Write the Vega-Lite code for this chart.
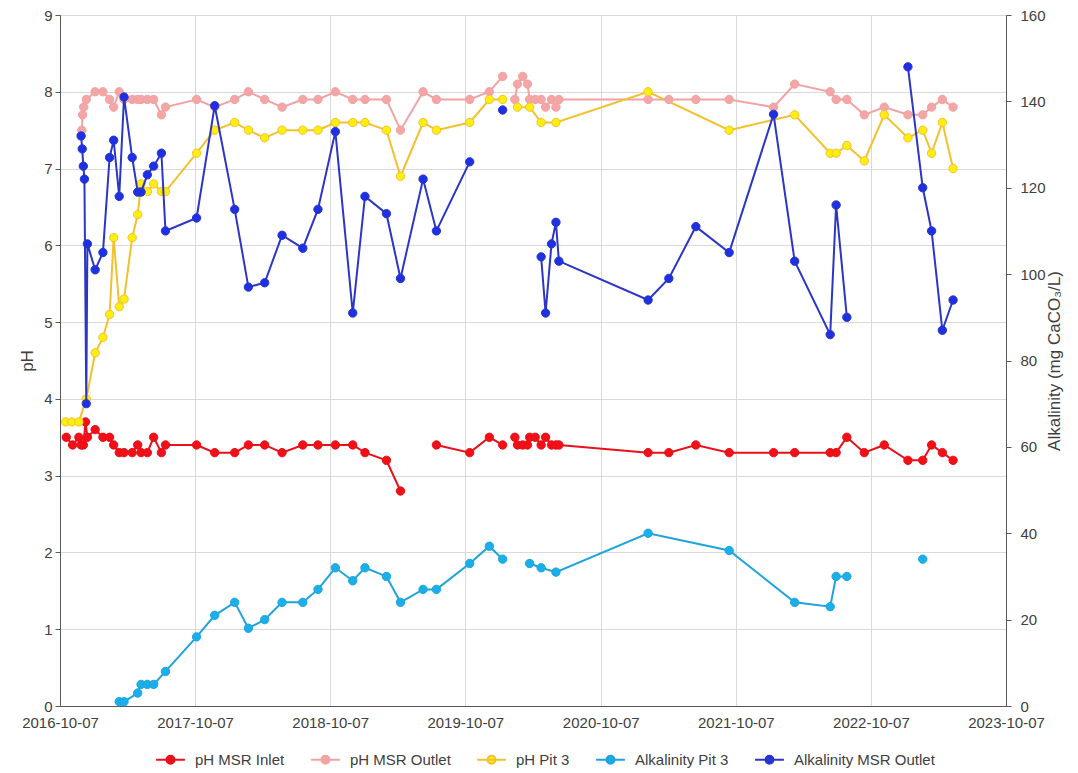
{
  "$schema": "https://vega.github.io/schema/vega-lite/v6.json",
  "width": 946,
  "height": 691,
  "autosize": {"type": "none"},
  "padding": {"left": 60, "top": 15, "right": 72, "bottom": 67},
  "background": "white",
  "config": {
    "font": "Liberation Sans",
    "view": {"stroke": "#595959", "strokeWidth": 1},
    "axis": {
      "labelFont": "Liberation Sans",
      "labelFontSize": 15,
      "labelColor": "#404040",
      "titleFont": "Liberation Sans",
      "titleFontSize": 17,
      "titleFontWeight": "normal",
      "titleColor": "#404040",
      "domainColor": "#595959",
      "tickColor": "#595959",
      "gridColor": "#D9D9D9",
      "gridWidth": 1
    },
    "legend": {
      "orient": "none",
      "legendX": 103,
      "legendY": 737,
      "direction": "horizontal",
      "padding": 0,
      "title": null,
      "symbolType": "M-3.6,0H3.6M1,0A1,1,0,1,1,-1,0A1,1,0,1,1,1,0Z",
      "symbolSize": 64,
      "symbolStrokeWidth": 2,
      "labelFont": "Liberation Sans",
      "labelFontSize": 15,
      "labelColor": "#404040",
      "labelOffset": 17,
      "columnPadding": 22
    }
  },
  "data": {
    "values": [
      {"date": "2016-10-24", "series": "pH MSR Inlet", "value": 3.5},
      {"date": "2016-11-10", "series": "pH MSR Inlet", "value": 3.4},
      {"date": "2016-11-27", "series": "pH MSR Inlet", "value": 3.5},
      {"date": "2016-12-03", "series": "pH MSR Inlet", "value": 3.4},
      {"date": "2016-12-09", "series": "pH MSR Inlet", "value": 3.4},
      {"date": "2016-12-15", "series": "pH MSR Inlet", "value": 3.7},
      {"date": "2016-12-20", "series": "pH MSR Inlet", "value": 3.5},
      {"date": "2017-01-10", "series": "pH MSR Inlet", "value": 3.6},
      {"date": "2017-01-31", "series": "pH MSR Inlet", "value": 3.5},
      {"date": "2017-02-18", "series": "pH MSR Inlet", "value": 3.5},
      {"date": "2017-03-01", "series": "pH MSR Inlet", "value": 3.4},
      {"date": "2017-03-16", "series": "pH MSR Inlet", "value": 3.3},
      {"date": "2017-03-29", "series": "pH MSR Inlet", "value": 3.3},
      {"date": "2017-04-20", "series": "pH MSR Inlet", "value": 3.3},
      {"date": "2017-05-05", "series": "pH MSR Inlet", "value": 3.4},
      {"date": "2017-05-14", "series": "pH MSR Inlet", "value": 3.3},
      {"date": "2017-05-31", "series": "pH MSR Inlet", "value": 3.3},
      {"date": "2017-06-17", "series": "pH MSR Inlet", "value": 3.5},
      {"date": "2017-07-08", "series": "pH MSR Inlet", "value": 3.3},
      {"date": "2017-07-19", "series": "pH MSR Inlet", "value": 3.4},
      {"date": "2017-10-11", "series": "pH MSR Inlet", "value": 3.4},
      {"date": "2017-11-29", "series": "pH MSR Inlet", "value": 3.3},
      {"date": "2018-01-22", "series": "pH MSR Inlet", "value": 3.3},
      {"date": "2018-02-28", "series": "pH MSR Inlet", "value": 3.4},
      {"date": "2018-04-13", "series": "pH MSR Inlet", "value": 3.4},
      {"date": "2018-05-30", "series": "pH MSR Inlet", "value": 3.3},
      {"date": "2018-07-25", "series": "pH MSR Inlet", "value": 3.4},
      {"date": "2018-09-04", "series": "pH MSR Inlet", "value": 3.4},
      {"date": "2018-10-21", "series": "pH MSR Inlet", "value": 3.4},
      {"date": "2018-12-07", "series": "pH MSR Inlet", "value": 3.4},
      {"date": "2019-01-09", "series": "pH MSR Inlet", "value": 3.3},
      {"date": "2019-03-08", "series": "pH MSR Inlet", "value": 3.2},
      {"date": "2019-04-15", "series": "pH MSR Inlet", "value": 2.8},
      {"date": "2019-06-15", "series": "pH MSR Inlet", "value": null},
      {"date": "2019-07-21", "series": "pH MSR Inlet", "value": 3.4},
      {"date": "2019-10-19", "series": "pH MSR Inlet", "value": 3.3},
      {"date": "2019-12-11", "series": "pH MSR Inlet", "value": 3.5},
      {"date": "2020-01-16", "series": "pH MSR Inlet", "value": 3.4},
      {"date": "2020-02-01", "series": "pH MSR Inlet", "value": null},
      {"date": "2020-02-18", "series": "pH MSR Inlet", "value": 3.5},
      {"date": "2020-02-25", "series": "pH MSR Inlet", "value": 3.4},
      {"date": "2020-03-10", "series": "pH MSR Inlet", "value": 3.4},
      {"date": "2020-03-23", "series": "pH MSR Inlet", "value": 3.4},
      {"date": "2020-03-29", "series": "pH MSR Inlet", "value": 3.5},
      {"date": "2020-04-13", "series": "pH MSR Inlet", "value": 3.5},
      {"date": "2020-04-29", "series": "pH MSR Inlet", "value": 3.4},
      {"date": "2020-05-11", "series": "pH MSR Inlet", "value": 3.5},
      {"date": "2020-05-27", "series": "pH MSR Inlet", "value": 3.4},
      {"date": "2020-06-08", "series": "pH MSR Inlet", "value": 3.4},
      {"date": "2020-06-16", "series": "pH MSR Inlet", "value": 3.4},
      {"date": "2021-02-12", "series": "pH MSR Inlet", "value": 3.3},
      {"date": "2021-04-09", "series": "pH MSR Inlet", "value": 3.3},
      {"date": "2021-06-21", "series": "pH MSR Inlet", "value": 3.4},
      {"date": "2021-09-19", "series": "pH MSR Inlet", "value": 3.3},
      {"date": "2022-01-17", "series": "pH MSR Inlet", "value": 3.3},
      {"date": "2022-03-15", "series": "pH MSR Inlet", "value": 3.3},
      {"date": "2022-06-19", "series": "pH MSR Inlet", "value": 3.3},
      {"date": "2022-07-05", "series": "pH MSR Inlet", "value": 3.3},
      {"date": "2022-08-03", "series": "pH MSR Inlet", "value": 3.5},
      {"date": "2022-09-19", "series": "pH MSR Inlet", "value": 3.3},
      {"date": "2022-11-12", "series": "pH MSR Inlet", "value": 3.4},
      {"date": "2023-01-15", "series": "pH MSR Inlet", "value": 3.2},
      {"date": "2023-02-24", "series": "pH MSR Inlet", "value": 3.2},
      {"date": "2023-03-20", "series": "pH MSR Inlet", "value": 3.4},
      {"date": "2023-04-18", "series": "pH MSR Inlet", "value": 3.3},
      {"date": "2023-05-17", "series": "pH MSR Inlet", "value": 3.2},

      {"date": "2016-12-05", "series": "pH MSR Outlet", "value": 7.5},
      {"date": "2016-12-07", "series": "pH MSR Outlet", "value": 7.7},
      {"date": "2016-12-10", "series": "pH MSR Outlet", "value": 7.8},
      {"date": "2016-12-17", "series": "pH MSR Outlet", "value": 7.9},
      {"date": "2017-01-10", "series": "pH MSR Outlet", "value": 8.0},
      {"date": "2017-01-31", "series": "pH MSR Outlet", "value": 8.0},
      {"date": "2017-02-18", "series": "pH MSR Outlet", "value": 7.9},
      {"date": "2017-03-01", "series": "pH MSR Outlet", "value": 7.8},
      {"date": "2017-03-16", "series": "pH MSR Outlet", "value": 8.0},
      {"date": "2017-03-29", "series": "pH MSR Outlet", "value": 7.9},
      {"date": "2017-04-20", "series": "pH MSR Outlet", "value": 7.9},
      {"date": "2017-05-05", "series": "pH MSR Outlet", "value": 7.9},
      {"date": "2017-05-14", "series": "pH MSR Outlet", "value": 7.9},
      {"date": "2017-05-31", "series": "pH MSR Outlet", "value": 7.9},
      {"date": "2017-06-17", "series": "pH MSR Outlet", "value": 7.9},
      {"date": "2017-07-08", "series": "pH MSR Outlet", "value": 7.7},
      {"date": "2017-07-19", "series": "pH MSR Outlet", "value": 7.8},
      {"date": "2017-10-11", "series": "pH MSR Outlet", "value": 7.9},
      {"date": "2017-11-29", "series": "pH MSR Outlet", "value": 7.8},
      {"date": "2018-01-22", "series": "pH MSR Outlet", "value": 7.9},
      {"date": "2018-02-28", "series": "pH MSR Outlet", "value": 8.0},
      {"date": "2018-04-13", "series": "pH MSR Outlet", "value": 7.9},
      {"date": "2018-05-30", "series": "pH MSR Outlet", "value": 7.8},
      {"date": "2018-07-25", "series": "pH MSR Outlet", "value": 7.9},
      {"date": "2018-09-04", "series": "pH MSR Outlet", "value": 7.9},
      {"date": "2018-10-21", "series": "pH MSR Outlet", "value": 8.0},
      {"date": "2018-12-07", "series": "pH MSR Outlet", "value": 7.9},
      {"date": "2019-01-09", "series": "pH MSR Outlet", "value": 7.9},
      {"date": "2019-03-08", "series": "pH MSR Outlet", "value": 7.9},
      {"date": "2019-04-15", "series": "pH MSR Outlet", "value": 7.5},
      {"date": "2019-06-15", "series": "pH MSR Outlet", "value": 8.0},
      {"date": "2019-07-21", "series": "pH MSR Outlet", "value": 7.9},
      {"date": "2019-10-19", "series": "pH MSR Outlet", "value": 7.9},
      {"date": "2019-12-11", "series": "pH MSR Outlet", "value": 8.0},
      {"date": "2020-01-16", "series": "pH MSR Outlet", "value": 8.2},
      {"date": "2020-02-01", "series": "pH MSR Outlet", "value": null},
      {"date": "2020-02-18", "series": "pH MSR Outlet", "value": 7.9},
      {"date": "2020-02-25", "series": "pH MSR Outlet", "value": 8.1},
      {"date": "2020-03-10", "series": "pH MSR Outlet", "value": 8.2},
      {"date": "2020-03-23", "series": "pH MSR Outlet", "value": 8.1},
      {"date": "2020-03-29", "series": "pH MSR Outlet", "value": 7.9},
      {"date": "2020-04-13", "series": "pH MSR Outlet", "value": 7.9},
      {"date": "2020-04-29", "series": "pH MSR Outlet", "value": 7.9},
      {"date": "2020-05-11", "series": "pH MSR Outlet", "value": 7.8},
      {"date": "2020-05-27", "series": "pH MSR Outlet", "value": 7.9},
      {"date": "2020-06-08", "series": "pH MSR Outlet", "value": 7.8},
      {"date": "2020-06-16", "series": "pH MSR Outlet", "value": 7.9},
      {"date": "2021-02-12", "series": "pH MSR Outlet", "value": 7.9},
      {"date": "2021-04-09", "series": "pH MSR Outlet", "value": 7.9},
      {"date": "2021-06-21", "series": "pH MSR Outlet", "value": 7.9},
      {"date": "2021-09-19", "series": "pH MSR Outlet", "value": 7.9},
      {"date": "2022-01-17", "series": "pH MSR Outlet", "value": 7.8},
      {"date": "2022-03-15", "series": "pH MSR Outlet", "value": 8.1},
      {"date": "2022-06-19", "series": "pH MSR Outlet", "value": 8.0},
      {"date": "2022-07-05", "series": "pH MSR Outlet", "value": 7.9},
      {"date": "2022-08-03", "series": "pH MSR Outlet", "value": 7.9},
      {"date": "2022-09-19", "series": "pH MSR Outlet", "value": 7.7},
      {"date": "2022-11-12", "series": "pH MSR Outlet", "value": 7.8},
      {"date": "2023-01-15", "series": "pH MSR Outlet", "value": 7.7},
      {"date": "2023-02-24", "series": "pH MSR Outlet", "value": 7.7},
      {"date": "2023-03-20", "series": "pH MSR Outlet", "value": 7.8},
      {"date": "2023-04-18", "series": "pH MSR Outlet", "value": 7.9},
      {"date": "2023-05-17", "series": "pH MSR Outlet", "value": 7.8},

      {"date": "2016-10-22", "series": "pH Pit 3", "value": 3.7},
      {"date": "2016-11-08", "series": "pH Pit 3", "value": 3.7},
      {"date": "2016-11-27", "series": "pH Pit 3", "value": 3.7},
      {"date": "2016-12-17", "series": "pH Pit 3", "value": 4.0},
      {"date": "2017-01-10", "series": "pH Pit 3", "value": 4.6},
      {"date": "2017-01-31", "series": "pH Pit 3", "value": 4.8},
      {"date": "2017-02-18", "series": "pH Pit 3", "value": 5.1},
      {"date": "2017-03-01", "series": "pH Pit 3", "value": 6.1},
      {"date": "2017-03-16", "series": "pH Pit 3", "value": 5.2},
      {"date": "2017-03-29", "series": "pH Pit 3", "value": 5.3},
      {"date": "2017-04-20", "series": "pH Pit 3", "value": 6.1},
      {"date": "2017-05-05", "series": "pH Pit 3", "value": 6.4},
      {"date": "2017-05-14", "series": "pH Pit 3", "value": 6.8},
      {"date": "2017-05-31", "series": "pH Pit 3", "value": 6.7},
      {"date": "2017-06-17", "series": "pH Pit 3", "value": 6.8},
      {"date": "2017-07-08", "series": "pH Pit 3", "value": 6.7},
      {"date": "2017-07-19", "series": "pH Pit 3", "value": 6.7},
      {"date": "2017-10-11", "series": "pH Pit 3", "value": 7.2},
      {"date": "2017-11-29", "series": "pH Pit 3", "value": 7.5},
      {"date": "2018-01-22", "series": "pH Pit 3", "value": 7.6},
      {"date": "2018-02-28", "series": "pH Pit 3", "value": 7.5},
      {"date": "2018-04-13", "series": "pH Pit 3", "value": 7.4},
      {"date": "2018-05-30", "series": "pH Pit 3", "value": 7.5},
      {"date": "2018-07-25", "series": "pH Pit 3", "value": 7.5},
      {"date": "2018-09-04", "series": "pH Pit 3", "value": 7.5},
      {"date": "2018-10-21", "series": "pH Pit 3", "value": 7.6},
      {"date": "2018-12-07", "series": "pH Pit 3", "value": 7.6},
      {"date": "2019-01-09", "series": "pH Pit 3", "value": 7.6},
      {"date": "2019-03-08", "series": "pH Pit 3", "value": 7.5},
      {"date": "2019-04-15", "series": "pH Pit 3", "value": 6.9},
      {"date": "2019-06-15", "series": "pH Pit 3", "value": 7.6},
      {"date": "2019-07-21", "series": "pH Pit 3", "value": 7.5},
      {"date": "2019-10-19", "series": "pH Pit 3", "value": 7.6},
      {"date": "2019-12-11", "series": "pH Pit 3", "value": 7.9},
      {"date": "2020-01-16", "series": "pH Pit 3", "value": 7.9},
      {"date": "2020-02-01", "series": "pH Pit 3", "value": null},
      {"date": "2020-02-25", "series": "pH Pit 3", "value": 7.8},
      {"date": "2020-03-29", "series": "pH Pit 3", "value": 7.8},
      {"date": "2020-04-29", "series": "pH Pit 3", "value": 7.6},
      {"date": "2020-06-08", "series": "pH Pit 3", "value": 7.6},
      {"date": "2021-02-12", "series": "pH Pit 3", "value": 8.0},
      {"date": "2021-09-19", "series": "pH Pit 3", "value": 7.5},
      {"date": "2022-03-15", "series": "pH Pit 3", "value": 7.7},
      {"date": "2022-06-19", "series": "pH Pit 3", "value": 7.2},
      {"date": "2022-07-05", "series": "pH Pit 3", "value": 7.2},
      {"date": "2022-08-03", "series": "pH Pit 3", "value": 7.3},
      {"date": "2022-09-19", "series": "pH Pit 3", "value": 7.1},
      {"date": "2022-11-12", "series": "pH Pit 3", "value": 7.7},
      {"date": "2023-01-15", "series": "pH Pit 3", "value": 7.4},
      {"date": "2023-02-24", "series": "pH Pit 3", "value": 7.5},
      {"date": "2023-03-20", "series": "pH Pit 3", "value": 7.2},
      {"date": "2023-04-18", "series": "pH Pit 3", "value": 7.6},
      {"date": "2023-05-17", "series": "pH Pit 3", "value": 7.0},

      {"date": "2017-03-16", "series": "Alkalinity Pit 3", "value": 1},
      {"date": "2017-03-29", "series": "Alkalinity Pit 3", "value": 1},
      {"date": "2017-05-05", "series": "Alkalinity Pit 3", "value": 3},
      {"date": "2017-05-14", "series": "Alkalinity Pit 3", "value": 5},
      {"date": "2017-05-31", "series": "Alkalinity Pit 3", "value": 5},
      {"date": "2017-06-17", "series": "Alkalinity Pit 3", "value": 5},
      {"date": "2017-07-19", "series": "Alkalinity Pit 3", "value": 8},
      {"date": "2017-10-11", "series": "Alkalinity Pit 3", "value": 16},
      {"date": "2017-11-29", "series": "Alkalinity Pit 3", "value": 21},
      {"date": "2018-01-22", "series": "Alkalinity Pit 3", "value": 24},
      {"date": "2018-02-28", "series": "Alkalinity Pit 3", "value": 18},
      {"date": "2018-04-13", "series": "Alkalinity Pit 3", "value": 20},
      {"date": "2018-05-30", "series": "Alkalinity Pit 3", "value": 24},
      {"date": "2018-07-25", "series": "Alkalinity Pit 3", "value": 24},
      {"date": "2018-09-04", "series": "Alkalinity Pit 3", "value": 27},
      {"date": "2018-10-21", "series": "Alkalinity Pit 3", "value": 32},
      {"date": "2018-12-07", "series": "Alkalinity Pit 3", "value": 29},
      {"date": "2019-01-09", "series": "Alkalinity Pit 3", "value": 32},
      {"date": "2019-03-08", "series": "Alkalinity Pit 3", "value": 30},
      {"date": "2019-04-15", "series": "Alkalinity Pit 3", "value": 24},
      {"date": "2019-06-15", "series": "Alkalinity Pit 3", "value": 27},
      {"date": "2019-07-21", "series": "Alkalinity Pit 3", "value": 27},
      {"date": "2019-10-19", "series": "Alkalinity Pit 3", "value": 33},
      {"date": "2019-12-11", "series": "Alkalinity Pit 3", "value": 37},
      {"date": "2020-01-16", "series": "Alkalinity Pit 3", "value": 34},
      {"date": "2020-02-18", "series": "Alkalinity Pit 3", "value": null},
      {"date": "2020-03-29", "series": "Alkalinity Pit 3", "value": 33},
      {"date": "2020-04-29", "series": "Alkalinity Pit 3", "value": 32},
      {"date": "2020-06-08", "series": "Alkalinity Pit 3", "value": 31},
      {"date": "2021-02-12", "series": "Alkalinity Pit 3", "value": 40},
      {"date": "2021-09-19", "series": "Alkalinity Pit 3", "value": 36},
      {"date": "2022-03-15", "series": "Alkalinity Pit 3", "value": 24},
      {"date": "2022-06-19", "series": "Alkalinity Pit 3", "value": 23},
      {"date": "2022-07-05", "series": "Alkalinity Pit 3", "value": 30},
      {"date": "2022-08-03", "series": "Alkalinity Pit 3", "value": 30},
      {"date": "2022-09-19", "series": "Alkalinity Pit 3", "value": null},
      {"date": "2023-02-24", "series": "Alkalinity Pit 3", "value": 34},

      {"date": "2016-12-03", "series": "Alkalinity MSR Outlet", "value": 132},
      {"date": "2016-12-06", "series": "Alkalinity MSR Outlet", "value": 129},
      {"date": "2016-12-09", "series": "Alkalinity MSR Outlet", "value": 125},
      {"date": "2016-12-12", "series": "Alkalinity MSR Outlet", "value": 122},
      {"date": "2016-12-17", "series": "Alkalinity MSR Outlet", "value": 70},
      {"date": "2016-12-20", "series": "Alkalinity MSR Outlet", "value": 107},
      {"date": "2017-01-10", "series": "Alkalinity MSR Outlet", "value": 101},
      {"date": "2017-01-31", "series": "Alkalinity MSR Outlet", "value": 105},
      {"date": "2017-02-18", "series": "Alkalinity MSR Outlet", "value": 127},
      {"date": "2017-03-01", "series": "Alkalinity MSR Outlet", "value": 131},
      {"date": "2017-03-16", "series": "Alkalinity MSR Outlet", "value": 118},
      {"date": "2017-03-29", "series": "Alkalinity MSR Outlet", "value": 141},
      {"date": "2017-04-20", "series": "Alkalinity MSR Outlet", "value": 127},
      {"date": "2017-05-05", "series": "Alkalinity MSR Outlet", "value": 119},
      {"date": "2017-05-14", "series": "Alkalinity MSR Outlet", "value": 119},
      {"date": "2017-05-31", "series": "Alkalinity MSR Outlet", "value": 123},
      {"date": "2017-06-17", "series": "Alkalinity MSR Outlet", "value": 125},
      {"date": "2017-07-08", "series": "Alkalinity MSR Outlet", "value": 128},
      {"date": "2017-07-19", "series": "Alkalinity MSR Outlet", "value": 110},
      {"date": "2017-10-11", "series": "Alkalinity MSR Outlet", "value": 113},
      {"date": "2017-11-29", "series": "Alkalinity MSR Outlet", "value": 139},
      {"date": "2018-01-22", "series": "Alkalinity MSR Outlet", "value": 115},
      {"date": "2018-02-28", "series": "Alkalinity MSR Outlet", "value": 97},
      {"date": "2018-04-13", "series": "Alkalinity MSR Outlet", "value": 98},
      {"date": "2018-05-30", "series": "Alkalinity MSR Outlet", "value": 109},
      {"date": "2018-07-25", "series": "Alkalinity MSR Outlet", "value": 106},
      {"date": "2018-09-04", "series": "Alkalinity MSR Outlet", "value": 115},
      {"date": "2018-10-21", "series": "Alkalinity MSR Outlet", "value": 133},
      {"date": "2018-12-07", "series": "Alkalinity MSR Outlet", "value": 91},
      {"date": "2019-01-09", "series": "Alkalinity MSR Outlet", "value": 118},
      {"date": "2019-03-08", "series": "Alkalinity MSR Outlet", "value": 114},
      {"date": "2019-04-15", "series": "Alkalinity MSR Outlet", "value": 99},
      {"date": "2019-06-15", "series": "Alkalinity MSR Outlet", "value": 122},
      {"date": "2019-07-21", "series": "Alkalinity MSR Outlet", "value": 110},
      {"date": "2019-10-19", "series": "Alkalinity MSR Outlet", "value": 126},
      {"date": "2019-12-11", "series": "Alkalinity MSR Outlet", "value": null},
      {"date": "2020-01-16", "series": "Alkalinity MSR Outlet", "value": 138},
      {"date": "2020-02-18", "series": "Alkalinity MSR Outlet", "value": null},
      {"date": "2020-04-29", "series": "Alkalinity MSR Outlet", "value": 104},
      {"date": "2020-05-11", "series": "Alkalinity MSR Outlet", "value": 91},
      {"date": "2020-05-27", "series": "Alkalinity MSR Outlet", "value": 107},
      {"date": "2020-06-08", "series": "Alkalinity MSR Outlet", "value": 112},
      {"date": "2020-06-16", "series": "Alkalinity MSR Outlet", "value": 103},
      {"date": "2021-02-12", "series": "Alkalinity MSR Outlet", "value": 94},
      {"date": "2021-04-09", "series": "Alkalinity MSR Outlet", "value": 99},
      {"date": "2021-06-21", "series": "Alkalinity MSR Outlet", "value": 111},
      {"date": "2021-09-19", "series": "Alkalinity MSR Outlet", "value": 105},
      {"date": "2022-01-17", "series": "Alkalinity MSR Outlet", "value": 137},
      {"date": "2022-03-15", "series": "Alkalinity MSR Outlet", "value": 103},
      {"date": "2022-06-19", "series": "Alkalinity MSR Outlet", "value": 86},
      {"date": "2022-07-05", "series": "Alkalinity MSR Outlet", "value": 116},
      {"date": "2022-08-03", "series": "Alkalinity MSR Outlet", "value": 90},
      {"date": "2022-09-19", "series": "Alkalinity MSR Outlet", "value": null},
      {"date": "2023-01-15", "series": "Alkalinity MSR Outlet", "value": 148},
      {"date": "2023-02-24", "series": "Alkalinity MSR Outlet", "value": 120},
      {"date": "2023-03-20", "series": "Alkalinity MSR Outlet", "value": 110},
      {"date": "2023-04-18", "series": "Alkalinity MSR Outlet", "value": 87},
      {"date": "2023-05-17", "series": "Alkalinity MSR Outlet", "value": 94}
    ]
  },
  "encoding": {
    "x": {
      "field": "date",
      "type": "temporal",
      "scale": {
        "type": "utc",
        "domain": [
          {"year": 2016, "month": 10, "date": 7, "utc": true},
          {"year": 2023, "month": 10, "date": 7, "utc": true}
        ]
      },
      "axis": {
        "title": null,
        "format": "%Y-%m-%d",
        "values": [
          {"year": 2016, "month": 10, "date": 7, "utc": true},
          {"year": 2017, "month": 10, "date": 7, "utc": true},
          {"year": 2018, "month": 10, "date": 7, "utc": true},
          {"year": 2019, "month": 10, "date": 7, "utc": true},
          {"year": 2020, "month": 10, "date": 7, "utc": true},
          {"year": 2021, "month": 10, "date": 7, "utc": true},
          {"year": 2022, "month": 10, "date": 7, "utc": true},
          {"year": 2023, "month": 10, "date": 7, "utc": true}
        ],
        "grid": true,
        "tickSize": 0,
        "labelPadding": 9,
        "labelFlush": false,
        "labelOverlap": false
      }
    }
  },
  "layer": [
    {
      "transform": [{"filter": "indexof(datum.series, 'pH') === 0"}],
      "encoding": {
        "y": {
          "field": "value",
          "type": "quantitative",
          "scale": {"domain": [0, 9], "nice": false},
          "axis": {
            "title": "pH",
            "values": [0, 1, 2, 3, 4, 5, 6, 7, 8, 9],
            "grid": true,
            "tickSize": 5,
            "labelPadding": 3,
            "titlePadding": 7
          }
        }
      },
      "layer": [
        {
          "mark": {"type": "line", "strokeWidth": 2},
          "encoding": {
            "stroke": {
              "field": "series",
              "type": "nominal",
              "scale": {
                "domain": ["pH MSR Inlet", "pH MSR Outlet", "pH Pit 3", "Alkalinity Pit 3", "Alkalinity MSR Outlet"],
                "range": ["#E8101A", "#F2A2A2", "#F2C12E", "#1EA4DC", "#2B36C6"]
              }
            }
          }
        },
        {
          "mark": {"type": "point", "filled": true, "size": 70, "strokeWidth": 1, "opacity": 1},
          "encoding": {
            "fill": {
              "field": "series",
              "type": "nominal",
              "scale": {
                "domain": ["pH MSR Inlet", "pH MSR Outlet", "pH Pit 3", "Alkalinity Pit 3", "Alkalinity MSR Outlet"],
                "range": ["#F20F16", "#F4A6A6", "#FFEE10", "#1AAFEA", "#1E30E4"]
              }
            },
            "stroke": {"field": "series", "type": "nominal"}
          }
        }
      ]
    },
    {
      "transform": [{"filter": "indexof(datum.series, 'Alkalinity') === 0"}],
      "encoding": {
        "y": {
          "field": "value",
          "type": "quantitative",
          "scale": {"domain": [0, 160], "nice": false},
          "axis": {
            "orient": "right",
            "title": "Alkalinity (mg CaCO₃/L)",
            "values": [0, 20, 40, 60, 80, 100, 120, 140, 160],
            "grid": false,
            "tickSize": 5,
            "labelPadding": 9,
            "titlePadding": 18,
            "titleAngle": 270
          }
        }
      },
      "layer": [
        {
          "mark": {"type": "line", "strokeWidth": 2},
          "encoding": {"stroke": {"field": "series", "type": "nominal"}}
        },
        {
          "mark": {"type": "point", "filled": true, "size": 70, "strokeWidth": 1, "opacity": 1},
          "encoding": {
            "fill": {"field": "series", "type": "nominal"},
            "stroke": {"field": "series", "type": "nominal"}
          }
        }
      ]
    }
  ],
  "resolve": {"scale": {"y": "independent"}, "axis": {"y": "independent"}}
}
